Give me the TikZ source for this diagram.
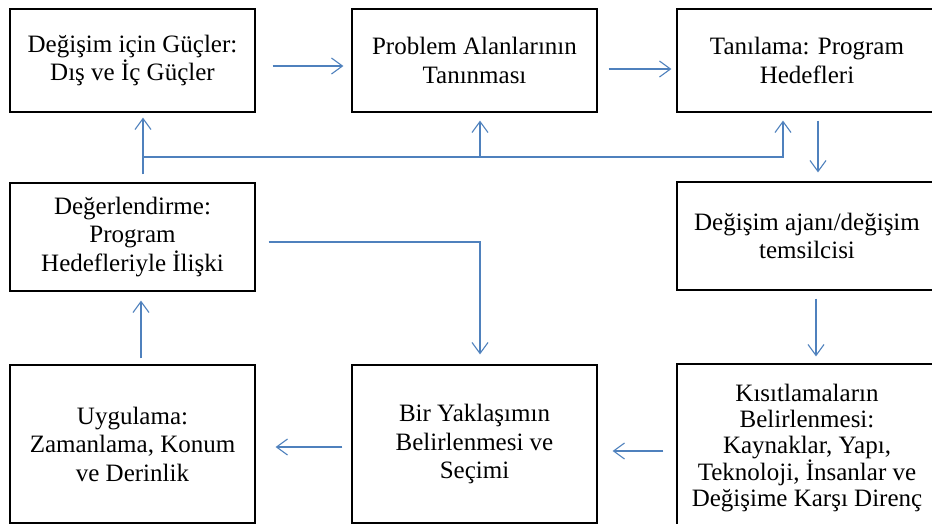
\documentclass[tikz,border=0pt]{standalone}
\usepackage{fontspec}
\setmainfont{Liberation Serif}
\usetikzlibrary{arrows.meta, positioning}

\definecolor{linkblue}{RGB}{79,129,189}

\begin{document}
\begin{tikzpicture}[x=1pt, y=1pt, on grid,
    box/.style={draw, line width=1.2pt, align=center, inner sep=0pt,
        minimum width=245pt, font=\fontsize{25}{28.5}\selectfont},
    wide/.style={box, minimum width=260pt},
    link/.style={draw=linkblue, line width=1.1pt, -{Straight Barb[length=11pt, width=16pt]}}]
    \useasboundingbox (0,0) rectangle (932,-523);
    \clip (0,0) rectangle (932,-523);

    \node[box, minimum height=103pt] (guc) at (132.5,-60.5) {Değişim için Güçler:\\Dış ve İç Güçler};
    \node[box, minimum height=103pt] (prob) [right=342pt of guc] {Problem Alanlarının\\Tanınması};
    \node[wide, minimum height=103pt] (tani) [right=332.5pt of prob] {Tanılama: Program\\Hedefleri};
    \node[wide, minimum height=108pt] (ajan) [below=175.5pt of tani] {Değişim  ajanı/değişim\\temsilcisi};
    \node[wide, minimum height=168pt, font=\fontsize{25}{26}\selectfont] (kisit) [below=212pt of ajan]
        {Kısıtlamaların\\Belirlenmesi:\\Kaynaklar, Yapı,\\Teknoloji, İnsanlar ve\\Değişime  Karşı Direnç};
    \node[box, minimum height=158pt] (yakl) [below=383.5pt of prob] {Bir Yaklaşımın\\Belirlenmesi ve\\Seçimi};
    \node[box, minimum height=158pt] (uyg) [left=342pt of yakl] {Uygulama:\\Zamanlama, Konum\\ve Derinlik};
    \node[box, minimum height=108pt] (deger) [above=207pt of uyg] {Değerlendirme:\\Program\\Hedefleriyle İlişki};

    % top row
    \path[link, shorten <=17pt, shorten >=8pt] ([yshift=-5.5pt]guc.east) -- ([yshift=-5.5pt]prob.west);
    \path[link, shorten <=11pt, shorten >=5pt] ([yshift=-8.5pt]prob.east) -- ([yshift=-8.5pt]tani.west);

    % feedback line
    \coordinate (fb) at (143,-157);
    \path[link, shorten <=8pt, shorten >=5pt] ([xshift=10.5pt]deger.north) -- ([xshift=10.5pt]guc.south);
    \path[link, shorten >=8pt] (fb) -| ([xshift=-24pt]tani.south);
    \path[link, shorten >=8pt] ([xshift=5.5pt]prob.south |- fb) -- ([xshift=5.5pt]prob.south);

    % right column and bottom row
    \path[link, shorten <=8pt, shorten >=9pt] ([xshift=11pt]tani.south) -- ([xshift=11pt]ajan.north);
    \path[link, shorten <=8pt, shorten >=7pt] ([xshift=9pt]ajan.south) -- ([xshift=9pt]kisit.north);
    \path[link, shorten <=13pt, shorten >=15pt] ([yshift=-3pt]kisit.west) -- ([yshift=-7pt]yakl.east);
    \path[link, shorten <=9pt, shorten >=20pt] ([yshift=-3pt]yakl.west) -- ([yshift=-3pt]uyg.east);
    \path[link, shorten <=6pt, shorten >=9pt] ([xshift=8.5pt]uyg.north) -- ([xshift=8.5pt]deger.south);
    \path[link, shorten <=13pt, shorten >=10pt] ([yshift=-5pt]deger.east) -| ([xshift=5.5pt]yakl.north);
\end{tikzpicture}
\end{document}
